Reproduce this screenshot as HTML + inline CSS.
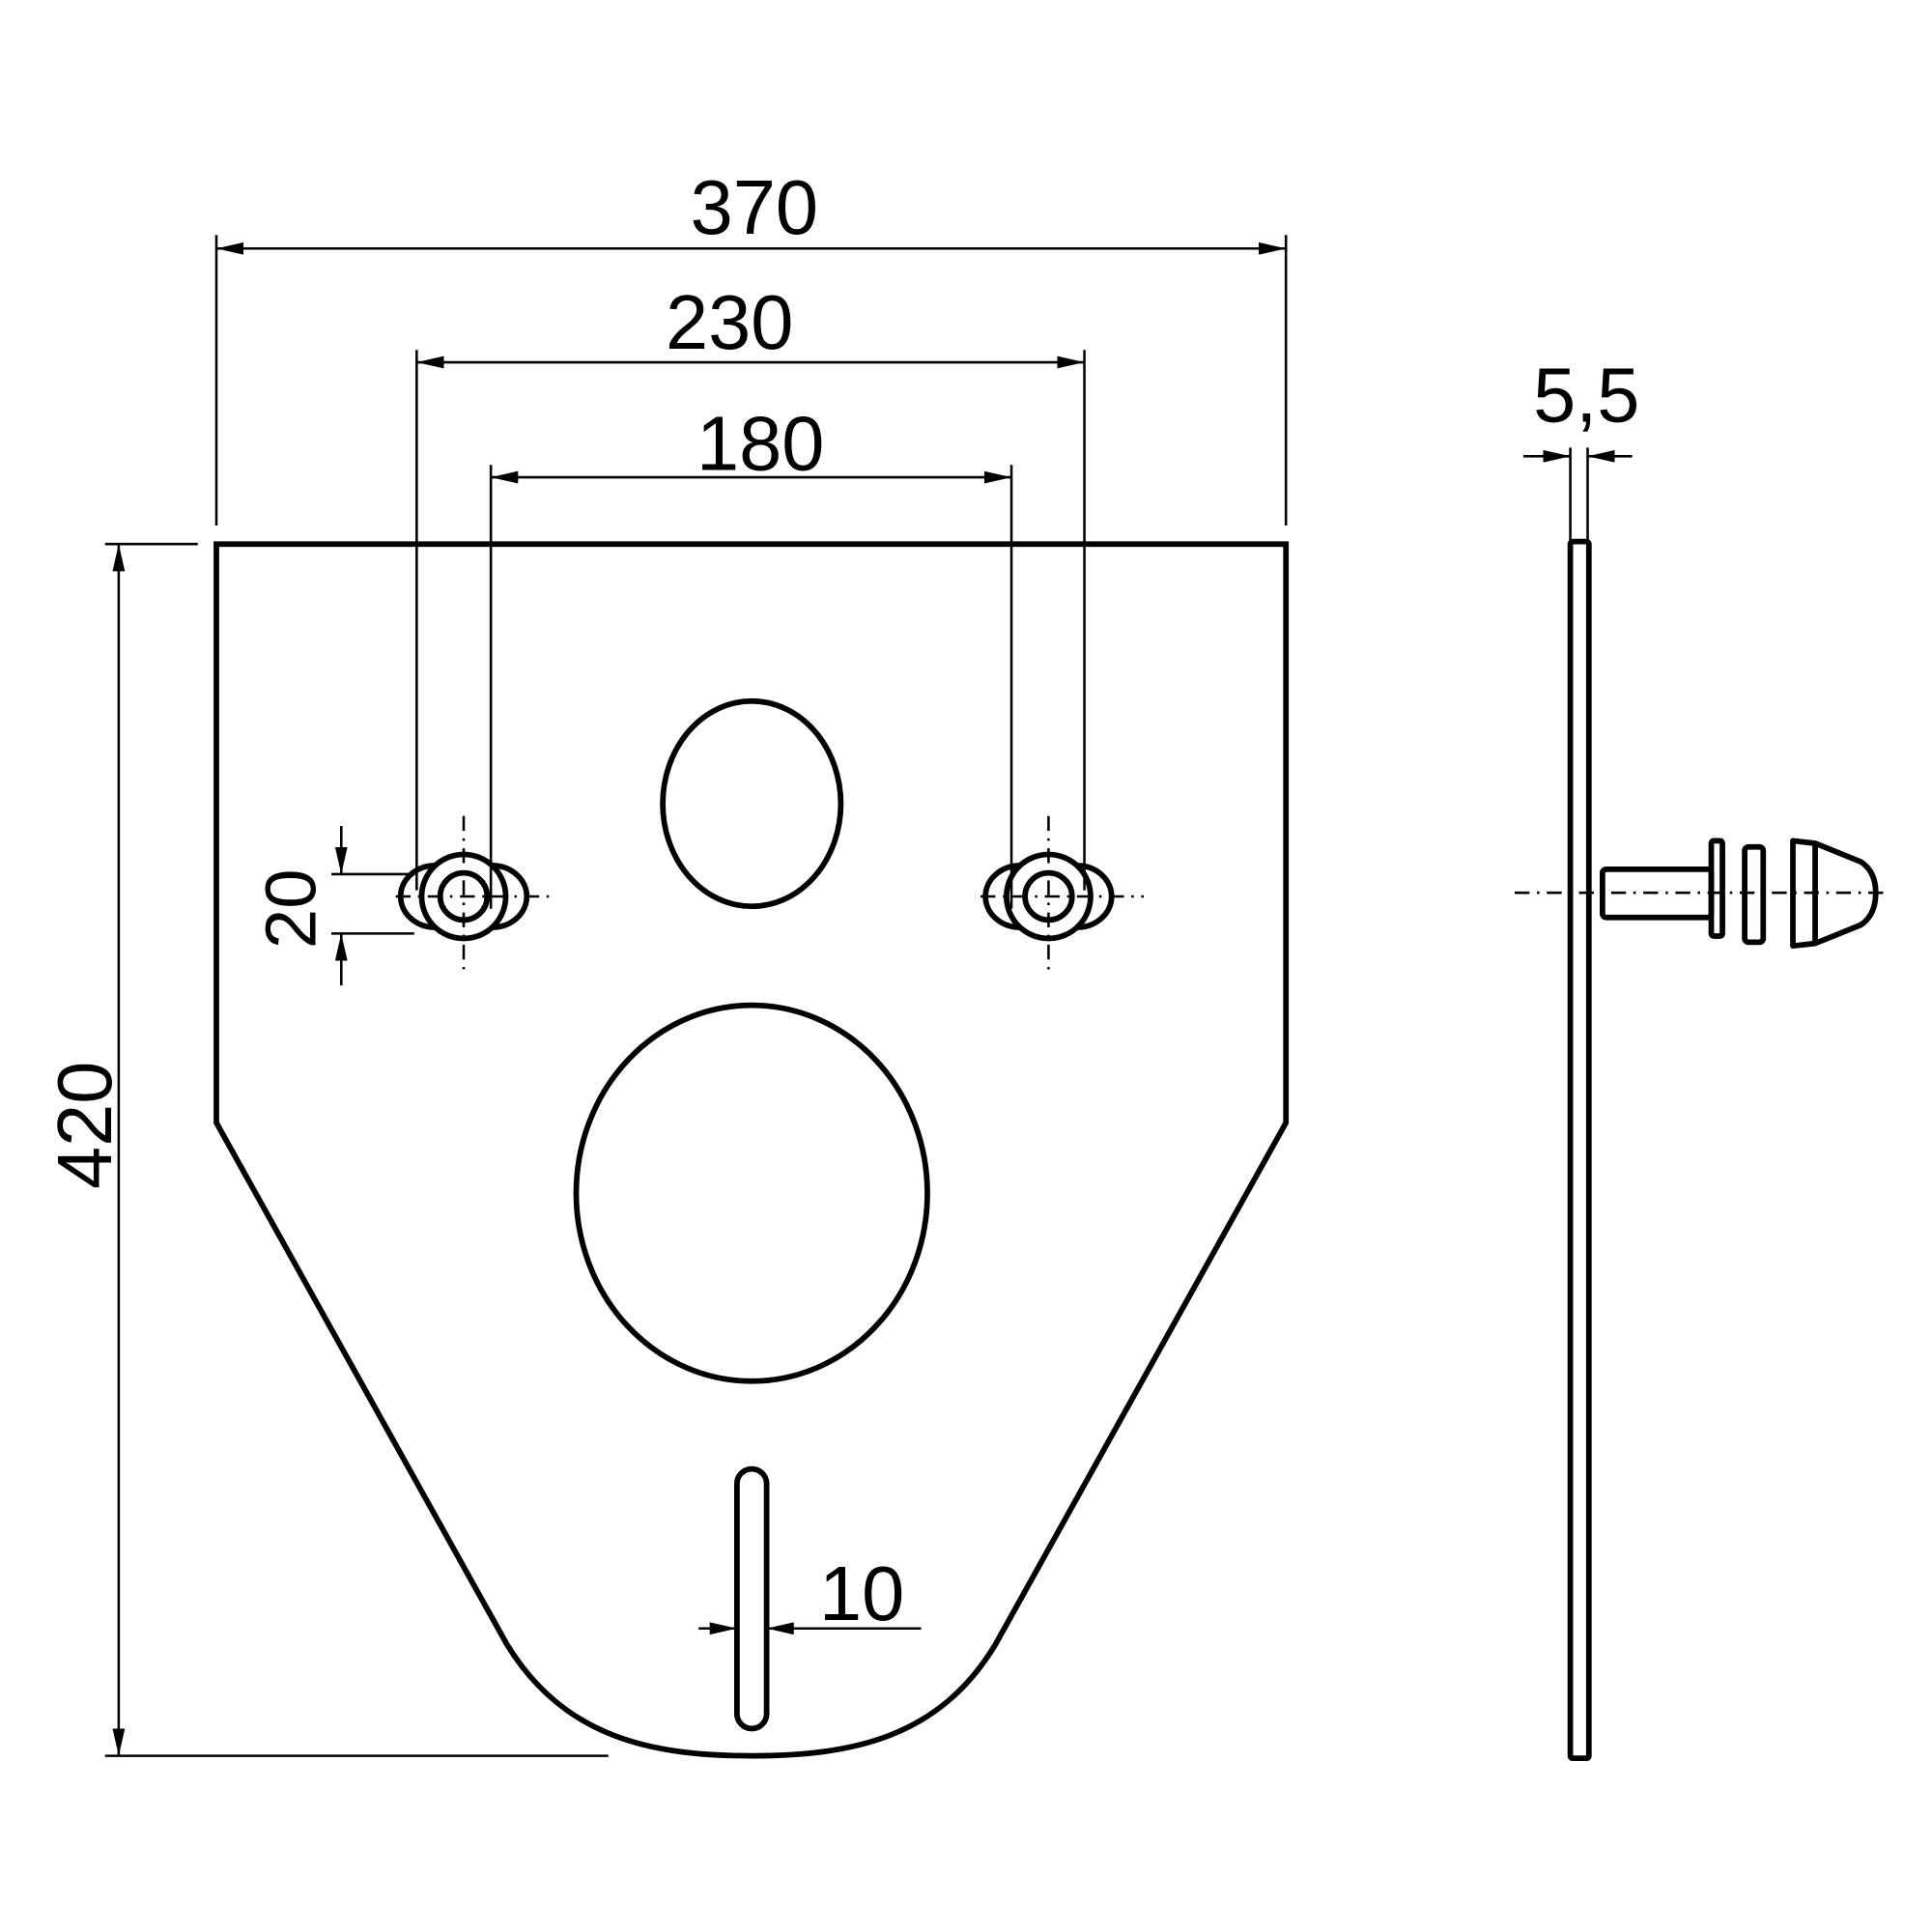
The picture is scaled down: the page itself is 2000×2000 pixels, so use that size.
<!DOCTYPE html>
<html><head><style>html,body{margin:0;padding:0;background:#fff}svg{display:block}</style></head>
<body>
<svg width="2000" height="2000" viewBox="0 0 1562.5 1562.5" xmlns="http://www.w3.org/2000/svg" font-family="'Liberation Sans',sans-serif">
<defs>
<marker id="a" viewBox="0 0 22 10" refX="22" refY="5" markerWidth="22" markerHeight="10" markerUnits="userSpaceOnUse" orient="auto-start-reverse"><path d="M0,0 L22,5 L0,10 Z" fill="#000"/></marker>
</defs>
<g fill="none" stroke="#000">
<path d="M175,440 L1040,440 L1040,908 L805,1330 C760,1405 690,1420 608,1420 C526,1420 456,1405 410,1330 L175,908 Z" stroke-width="4.5"/>
<ellipse cx="608" cy="650" rx="72" ry="83" stroke-width="4.5"/>
<ellipse cx="608" cy="965" rx="142" ry="152" stroke-width="4.5"/>
<rect x="596" y="1188" width="24" height="210" rx="12" stroke-width="4.5"/>
<g stroke-width="4.5" fill="#fff">
<ellipse cx="352" cy="725" rx="28" ry="25"/><ellipse cx="398" cy="725" rx="28" ry="25"/>
<circle cx="375" cy="725" r="34"/><circle cx="375" cy="725" r="19"/>
<ellipse cx="825" cy="725" rx="28" ry="25"/><ellipse cx="871" cy="725" rx="28" ry="25"/>
<circle cx="848" cy="725" r="34"/><circle cx="848" cy="725" r="19"/>
</g>
<g stroke-width="2" stroke-dasharray="12,6,2,6">
<line x1="320" y1="725" x2="445" y2="725"/><line x1="375" y1="660" x2="375" y2="790"/>
<line x1="793" y1="725" x2="925" y2="725"/><line x1="848" y1="660" x2="848" y2="790"/>
<line x1="1225" y1="722" x2="1528" y2="722"/>
</g>
<g stroke-width="2">
<line x1="175" y1="190" x2="175" y2="425"/><line x1="1040" y1="190" x2="1040" y2="425"/>
<line x1="175" y1="201" x2="1040" y2="201" marker-start="url(#a)" marker-end="url(#a)"/>
<line x1="337" y1="283" x2="337" y2="720"/><line x1="877" y1="283" x2="877" y2="720"/>
<line x1="337" y1="293" x2="877" y2="293" marker-start="url(#a)" marker-end="url(#a)"/>
<line x1="397" y1="376" x2="397" y2="735"/><line x1="818" y1="376" x2="818" y2="735"/>
<line x1="397" y1="386" x2="818" y2="386" marker-start="url(#a)" marker-end="url(#a)"/>
<line x1="85" y1="440" x2="160" y2="440"/><line x1="85" y1="1420" x2="492" y2="1420"/>
<line x1="96" y1="440" x2="96" y2="1420" marker-start="url(#a)" marker-end="url(#a)"/>
<line x1="268" y1="707" x2="335" y2="707"/><line x1="268" y1="755" x2="335" y2="755"/>
<line x1="276" y1="668" x2="276" y2="707" marker-end="url(#a)"/>
<line x1="276" y1="797" x2="276" y2="755" marker-end="url(#a)"/>
<line x1="565" y1="1317" x2="596" y2="1317" marker-end="url(#a)"/>
<line x1="745" y1="1317" x2="620" y2="1317" marker-end="url(#a)"/>
<line x1="1270" y1="362" x2="1270" y2="438"/><line x1="1284" y1="362" x2="1284" y2="438"/>
<line x1="1232" y1="369" x2="1270" y2="369" marker-end="url(#a)"/>
<line x1="1320" y1="369" x2="1284" y2="369" marker-end="url(#a)"/>
</g>
<g stroke-width="4.5" stroke-linejoin="round">
<rect x="1270" y="438" width="15" height="984" rx="2"/>
<rect x="1296" y="703" width="88" height="39" rx="3"/>
<rect x="1384" y="680" width="9" height="77" rx="2"/>
<rect x="1411" y="685" width="15" height="77" rx="3"/>
<path d="M1450,680 L1468,682 L1505,697 Q1517,705 1517,722 Q1517,740 1505,748 L1468,763 L1450,765 Z"/>
<line x1="1468" y1="682" x2="1468" y2="763"/>
</g>
</g>
<g fill="#000" font-size="62" text-anchor="middle">
<text x="610" y="189">370</text>
<text x="590" y="282">230</text>
<text x="615" y="380">180</text>
<text x="697" y="1310">10</text>
<text x="1283" y="341">5,5</text>
<text transform="translate(90,910) rotate(-90)">420</text>
<text transform="translate(255,735) rotate(-90)" font-size="58">20</text>
</g>
</svg>
</body></html>
